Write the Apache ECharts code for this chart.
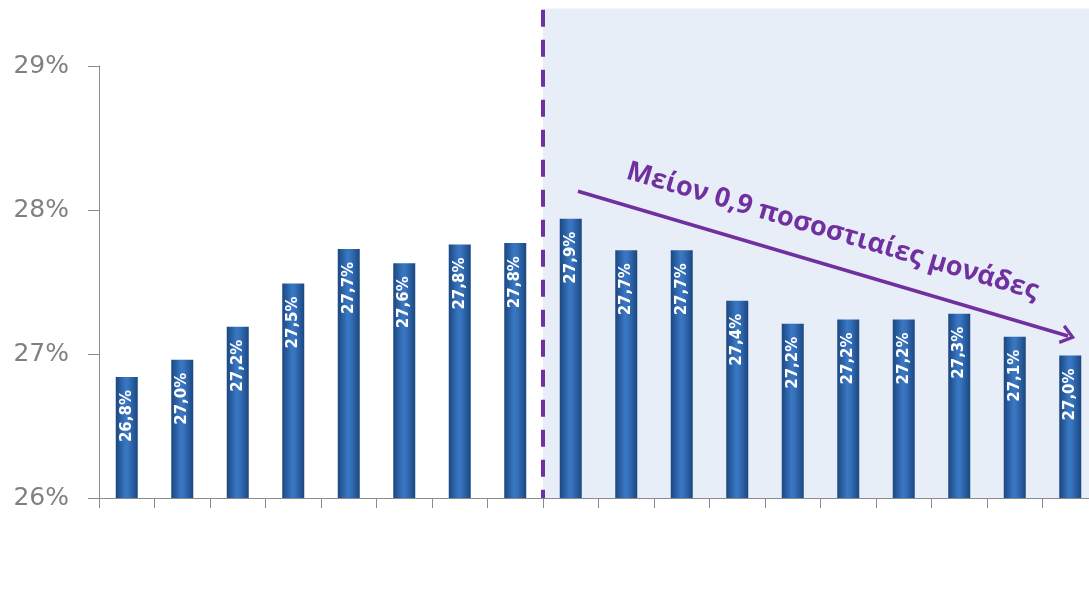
<!DOCTYPE html>
<html>
<head>
<meta charset="utf-8">
<script src="https://cdn.jsdelivr.net/npm/echarts@6/dist/echarts.min.js"></script>
<style>
html,body{margin:0;padding:0;background:#fff;}
#c{width:1089px;height:615px;}
</style>
</head>
<body>
<div id="c"></div>
<script>
var categories = ['Ιαν-13','Φεβ-13','Μαρ-13','Απρ-13','Μάι-13','Ιουν-13','Ιουλ-13','Αυγ-13','Σεπ-13','Οκτ-13','Νοέ-13','Δεκ-13','Ιαν-14','Φεβ-14','Μαρ-14','Απρ-14','Μάι-14','Ιουν-14'];
var values = [26.84, 26.96, 27.19, 27.49, 27.73, 27.63, 27.76, 27.77, 27.94, 27.72, 27.72, 27.37, 27.21, 27.24, 27.24, 27.28, 27.12, 26.99];
var yTicks = [26, 27, 28, 29];
var annotationText = 'Μείον 0,9 ποσοστιαίες μονάδες';
var shadeStart = 8;
var shadeEnd = 18;
var shadeTop = 29.4;
var arrowFrom = [8.63, 28.13];
var arrowTo = [17.46, 27.125];

var chart = echarts.init(document.getElementById('c'));
var purple = '#7030a0';
var grayText = '#808080';
var barGrad = new echarts.graphic.LinearGradient(0, 0, 1, 0, [
  {offset: 0, color: '#1b4780'},
  {offset: 0.45, color: '#3a78c4'},
  {offset: 0.6, color: '#3570ba'},
  {offset: 1, color: '#1b4780'}
]);
var H = 615;
var unitPx = 144;
var gridTop = 66, gridBottom = 117, gridLeft = 99, gridWidth = 999;
var catPx = gridWidth / categories.length;
var overlayTop = gridTop - (shadeTop - yTicks[yTicks.length - 1]) * unitPx;
var overlayMin = shadeTop - (H - overlayTop) / unitPx;

// month labels: short invisible 45° guide segments whose labels follow the line direction
var labelLines = categories.map(function(name, i) {
  var endX = i + 0.5 + 16 / catPx;
  var endY = yTicks[0] - 46 / unitPx;
  var startX = endX - 20 / catPx;
  var startY = endY - 20 / unitPx;
  return [
    {coord: [startX, startY], symbol: 'none',
     lineStyle: {opacity: 0, width: 0},
     label: {show: true, position: 'insideEndTop', distance: 0, formatter: name,
             color: grayText, fontSize: 21, fontWeight: 'bold', fontFamily: 'Open Sans'}},
    {coord: [endX, endY], symbol: 'none'}
  ];
});

chart.setOption({
  animation: false,
  backgroundColor: '#fff',
  grid: [
    {left: gridLeft, top: gridTop, bottom: gridBottom, width: gridWidth, containLabel: false, outerBoundsMode: 'none', z: 2},
    {left: gridLeft, top: overlayTop, bottom: 0, width: gridWidth, containLabel: false, outerBoundsMode: 'none', z: 0}
  ],
  xAxis: [{
    gridIndex: 0,
    type: 'category',
    data: categories,
    axisLine: {lineStyle: {color: '#8c8c8c', width: 1}},
    axisTick: {show: true, length: 10, lineStyle: {color: '#8c8c8c'}},
    axisLabel: {show: false}
  }, {
    gridIndex: 1, type: 'value', min: 0, max: categories.length, show: false
  }],
  yAxis: [{
    gridIndex: 0,
    type: 'value', min: yTicks[0], max: yTicks[yTicks.length - 1], interval: 1,
    axisLine: {show: true, lineStyle: {color: '#8c8c8c', width: 1}},
    axisTick: {show: true, length: 11, lineStyle: {color: '#8c8c8c'}},
    splitLine: {show: false},
    axisLabel: {margin: 30, color: grayText, fontSize: 25, fontFamily: 'DejaVu Sans', formatter: function(v){return v + '%';}}
  }, {
    gridIndex: 1, type: 'value', min: overlayMin, max: shadeTop, show: false
  }],
  series: [{
    type: 'line',
    xAxisIndex: 1,
    yAxisIndex: 1,
    data: [[shadeStart, yTicks[0]]],
    symbolSize: 0,
    lineStyle: {opacity: 0},
    silent: true,
    z: 1,
    markArea: {
      silent: true,
      itemStyle: {color: '#e8eef7'},
      data: [[{coord: [shadeStart, yTicks[0]]}, {coord: [shadeEnd, shadeTop]}]]
    },
    markLine: {
      silent: true,
      symbol: 'none',
      animation: false,
      data: [
        [{coord: [shadeStart, shadeTop - 0.01], lineStyle: {color: purple, width: 4, type: [17, 13]}},
         {coord: [shadeStart, yTicks[0]]}],
        [{coord: arrowFrom, symbol: 'none', lineStyle: {color: purple, width: 3.5, type: 'solid'},
          label: {show: true, position: 'insideMiddleTop', distance: 20, formatter: annotationText,
                  color: purple, fontSize: 27, fontWeight: 'bold', fontFamily: 'Open Sans'}},
         {coord: arrowTo, symbol: 'path://M0,0 L9,11 L6.5,12.5 L0,4.5 L-6.5,12.5 L-9,11 Z', symbolSize: [20, 15]}]
      ].concat(labelLines),
      label: {show: false}
    }
  }, {
    type: 'bar',
    data: values,
    barWidth: 22,
    z: 3,
    itemStyle: {color: barGrad},
    label: {
      show: true,
      position: 'insideTop',
      rotate: 90,
      align: 'right',
      verticalAlign: 'middle',
      distance: 13,
      color: '#fff',
      fontSize: 15,
      fontWeight: 'bold',
      fontFamily: 'DejaVu Sans',
      formatter: function(p){return p.value.toFixed(1).replace('.', ',') + '%';}
    }
  }]
});
</script>
</body>
</html>
